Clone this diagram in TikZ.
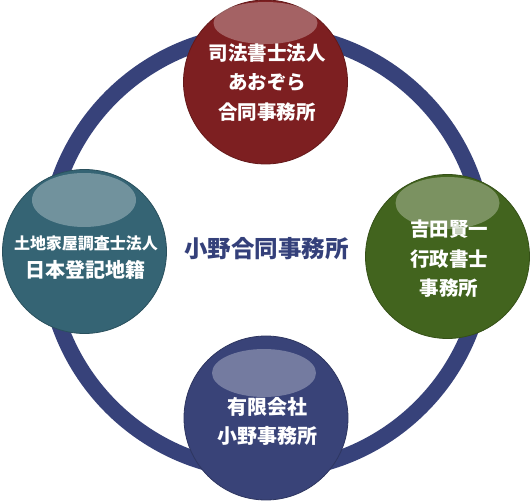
\documentclass[tikz,border=0pt]{standalone}
\usepackage{fontspec}
\newfontfamily\cjk{Noto Sans CJK JP}
\definecolor{ringc}{RGB}{55,66,122}
\definecolor{redc}{RGB}{125,31,33}
\definecolor{greenc}{RGB}{66,100,30}
\definecolor{tealc}{RGB}{53,100,116}
\definecolor{navyc}{RGB}{57,67,120}
\definecolor{titlec}{RGB}{52,64,122}
\begin{document}
\begin{tikzpicture}[x=1pt,y=-1pt,
  ball/.style={circle,minimum size=164pt,inner sep=0pt,outer sep=0pt,draw=#1!80!black,line width=0.8pt,fill=#1},
  gloss/.style={fill=white,fill opacity=0.3,draw=none},
  lbl/.style={text=white,align=center,inner sep=0pt,font=\cjk\bfseries\fontsize{19.5}{29.5}\selectfont}]
\useasboundingbox (0,0) rectangle (531,502);
\draw[ringc,line width=16pt] (266,252) circle[radius=219pt];
% top
\node[ball=redc] (top) at (265.5,82) {};
\fill[gloss] (265.5,23) ellipse[x radius=52pt,y radius=21pt];
\node[lbl] (toptext) at (267,82.5) {司法書士法人\\あおぞら\\合同事務所};
% right
\node[ball=greenc] (right) at (447.5,256.5) {};
\fill[gloss] (447.5,203) ellipse[x radius=52pt,y radius=26pt];
\node[lbl] (righttext) at (449,259) {吉田賢一\\行政書士\\事務所};
% left
\node[ball=tealc] (left) at (84.5,251.5) {};
\fill[gloss] (84,200) ellipse[x radius=52pt,y radius=27pt];
\node[lbl,font=\cjk\bfseries\fontsize{20}{28}\selectfont] (lefttext) at (86,257.5) {{\fontsize{16}{28}\selectfont 土地家屋調査士法人}\\日本登記地籍};
% bottom
\node[ball=navyc] (bottom) at (266,418) {};
\fill[gloss] (264,373) ellipse[x radius=52pt,y radius=24pt];
\node[lbl,font=\cjk\bfseries\fontsize{20}{29}\selectfont] (bottomtext) at (267,421.5) {有限会社\\小野事務所};
% centre
\node[text=titlec,inner sep=0pt,font=\cjk\bfseries\fontsize{23.5}{28}\selectfont] (title) at (266.5,248.5) {小野合同事務所};
\end{tikzpicture}
\end{document}
